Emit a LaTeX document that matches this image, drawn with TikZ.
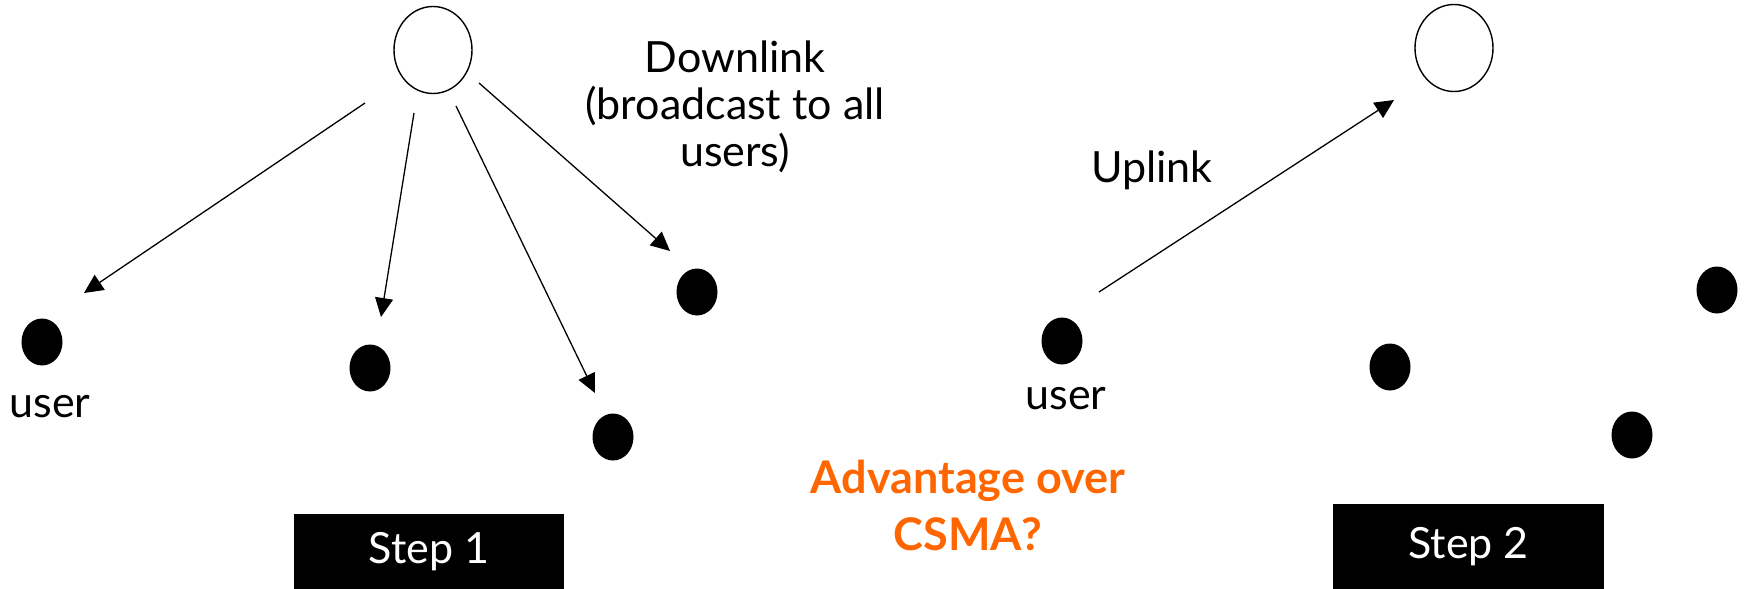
\documentclass[tikz,border=0pt]{standalone}
\usepackage{fontspec}
\setmainfont{Lato}
\usetikzlibrary{arrows.meta,shapes.geometric}
\definecolor{qorange}{RGB}{255,102,0}
\begin{document}
\begin{tikzpicture}[x=1pt,y=-1pt,
  station/.style={draw=black,line width=1.4pt,ellipse,minimum width=78pt,minimum height=87pt,inner sep=0pt},
  mobile/.style={fill=black,ellipse,minimum width=41pt,minimum height=47pt,inner sep=0pt},
  link/.style={-{Triangle[length=19pt,width=18pt]},line width=1.3pt},
  txt/.style={font=\fontsize{43}{47}\selectfont,align=center,inner sep=0pt},
  stepbox/.style={fill=black,text=white,font=\fontsize{43}{47}\selectfont,inner sep=0pt},
  question/.style={text=qorange,font=\bfseries\fontsize{45}{57}\selectfont,align=center,inner sep=0pt}]
\useasboundingbox (0,0) rectangle (1749,589);

% ---- Step 1: downlink broadcast ----
\node[station] (bs1) at (433,50) {};
\node[mobile] (u1) at (42,342) {};
\node[mobile] (u2) at (370,368) {};
\node[mobile] (u3) at (613,437) {};
\node[mobile] (u4) at (697,292) {};
\node[txt,anchor=base] (user1) at (50,417) {user};
% base anchor of a multi-line node sits on its last line
\node[txt,anchor=base] (down) at (735,166) {Downlink\\(broadcast to all\\users)};

\coordinate (d1s) at (365,103);  \coordinate (d1e) at (84,293);
\coordinate (d2s) at (414,113);  \coordinate (d2e) at (381,317);
\coordinate (d3s) at (456,106);  \coordinate (d3e) at (595,393);
\coordinate (d4s) at (479,83);   \coordinate (d4e) at (670,251);
\draw[link] (d1s) -- (d1e);
\draw[link] (d2s) -- (d2e);
\draw[link] (d3s) -- (d3e);
\draw[link] (d4s) -- (d4e);

\node[stepbox,minimum width=270pt,minimum height=75pt] (step1) at (429,551.5) {Step 1};

% ---- Step 2: uplink ----
\node[station] (bs2) at (1454,48) {};
\node[mobile] (v1) at (1062,341) {};
\node[mobile] (v2) at (1390,367) {};
\node[mobile] (v3) at (1632,435) {};
\node[mobile] (v4) at (1717,290) {};
\node[txt,anchor=base] (user2) at (1066,409) {user};
\node[txt,anchor=base] (up) at (1152,182) {Uplink};

\coordinate (us) at (1099,292);  \coordinate (ue) at (1394,100);
\draw[link] (us) -- (ue);

\node[stepbox,minimum width=271pt,minimum height=85pt] (step2) at (1468.5,546.5) {Step 2};

% ---- question ----
\node[question,anchor=base] (adv) at (968,550) {Advantage over\\CSMA?};
\end{tikzpicture}
\end{document}
